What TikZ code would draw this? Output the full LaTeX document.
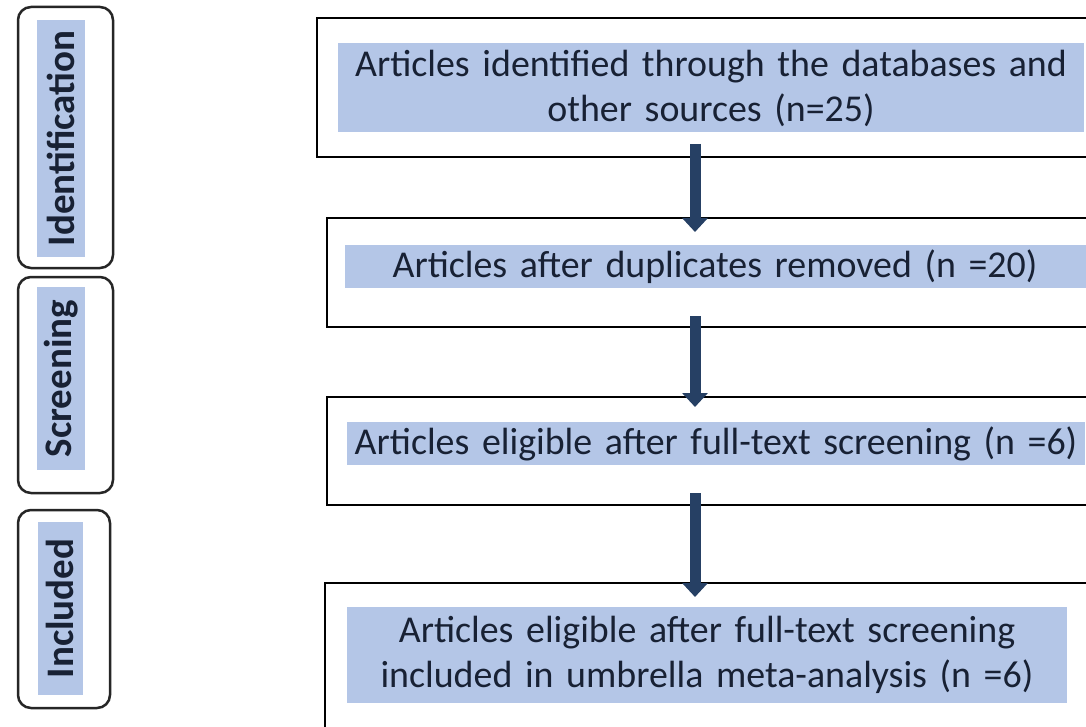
\documentclass[tikz,border=0pt]{standalone}
\usepackage{fontspec}
\setmainfont{Carlito}
\usetikzlibrary{arrows.meta,calc}
\definecolor{hl}{RGB}{180,198,231}
\definecolor{txt}{RGB}{24,33,52}
\definecolor{arr}{RGB}{38,64,100}
\begin{document}
\begin{tikzpicture}[x=1pt,y=-1pt,
  stagebox/.style={draw=black!85, line width=2.5pt, rounded corners=13pt, inner sep=0pt},
  stagelabel/.style={fill=hl, text=txt, font=\fontsize{39}{45}\selectfont\bfseries, rotate=90, inner sep=0pt, minimum height=48pt},
  flowbox/.style={draw=black, line width=2pt, inner sep=0pt},
  flowtext/.style={fill=hl, text=txt, font=\fontsize{37.9}{45}\selectfont, align=center, inner sep=0pt},
  flowarrow/.style={draw=arr, line width=11pt, -{Triangle[width=25pt,length=14pt]}}
]
\useasboundingbox (0,0) rectangle (1086,727);
\clip (0,0) rectangle (1086,727);
\fill[white] (0,0) rectangle (1086,727);

% stage boxes (left)
\node[stagebox, minimum width=95pt, minimum height=261pt] (s1) at (65.5,137.5) {};
\node[stagebox, minimum width=95pt, minimum height=216pt] (s2) at (65.5,385) {};
\node[stagebox, minimum width=92pt, minimum height=198pt] (s3) at (64,609) {};
\node[stagelabel, minimum width=237pt] (l1) at (61,138.5) {Identification};
\node[stagelabel, minimum width=183pt] (l2) at (61,378.5) {Screening};
\node[stagelabel, minimum width=173pt, minimum height=45pt] (l3) at (60,608.5) {Included};

% flow boxes (right)
\node[flowbox, minimum width=803pt, minimum height=139pt] (b1) at (718.5,87.5) {};
\node[flowbox, minimum width=793pt, minimum height=109pt] (b2) at (723.5,272.5) {};
\node[flowbox, minimum width=793pt, minimum height=108pt] (b3) at (723.5,451) {};
\node[flowbox, minimum width=795pt, minimum height=177pt] (b4) at (722.5,671.5) {};

\node[flowtext, text width=746pt, minimum height=89pt] (t1) at (711,88) {Articles identified through the databases and\\other sources (n=25)};
\node[flowtext, text width=741pt, minimum height=43pt] (t2) at (715,266.5) {Articles after duplicates removed (n =20)};
\node[flowtext, text width=738pt, minimum height=43pt] (t3) at (716,443.5) {Articles eligible after full-text screening (n =6)};
\node[flowtext, text width=720pt, minimum height=96pt] (t4) at (707,655) {Articles eligible after full-text screening\\included in umbrella meta-analysis (n =6)};

% arrows
\coordinate (ax) at (695,0);
\draw[flowarrow] ([yshift=14pt]b1.south -| ax) -- ([yshift=-15pt]b2.north -| ax);
\draw[flowarrow] ([yshift=12pt]b2.south -| ax) -- ([yshift=-11pt]b3.north -| ax);
\draw[flowarrow] ([yshift=13pt]b3.south -| ax) -- ([yshift=-15pt]b4.north -| ax);
\end{tikzpicture}
\end{document}
